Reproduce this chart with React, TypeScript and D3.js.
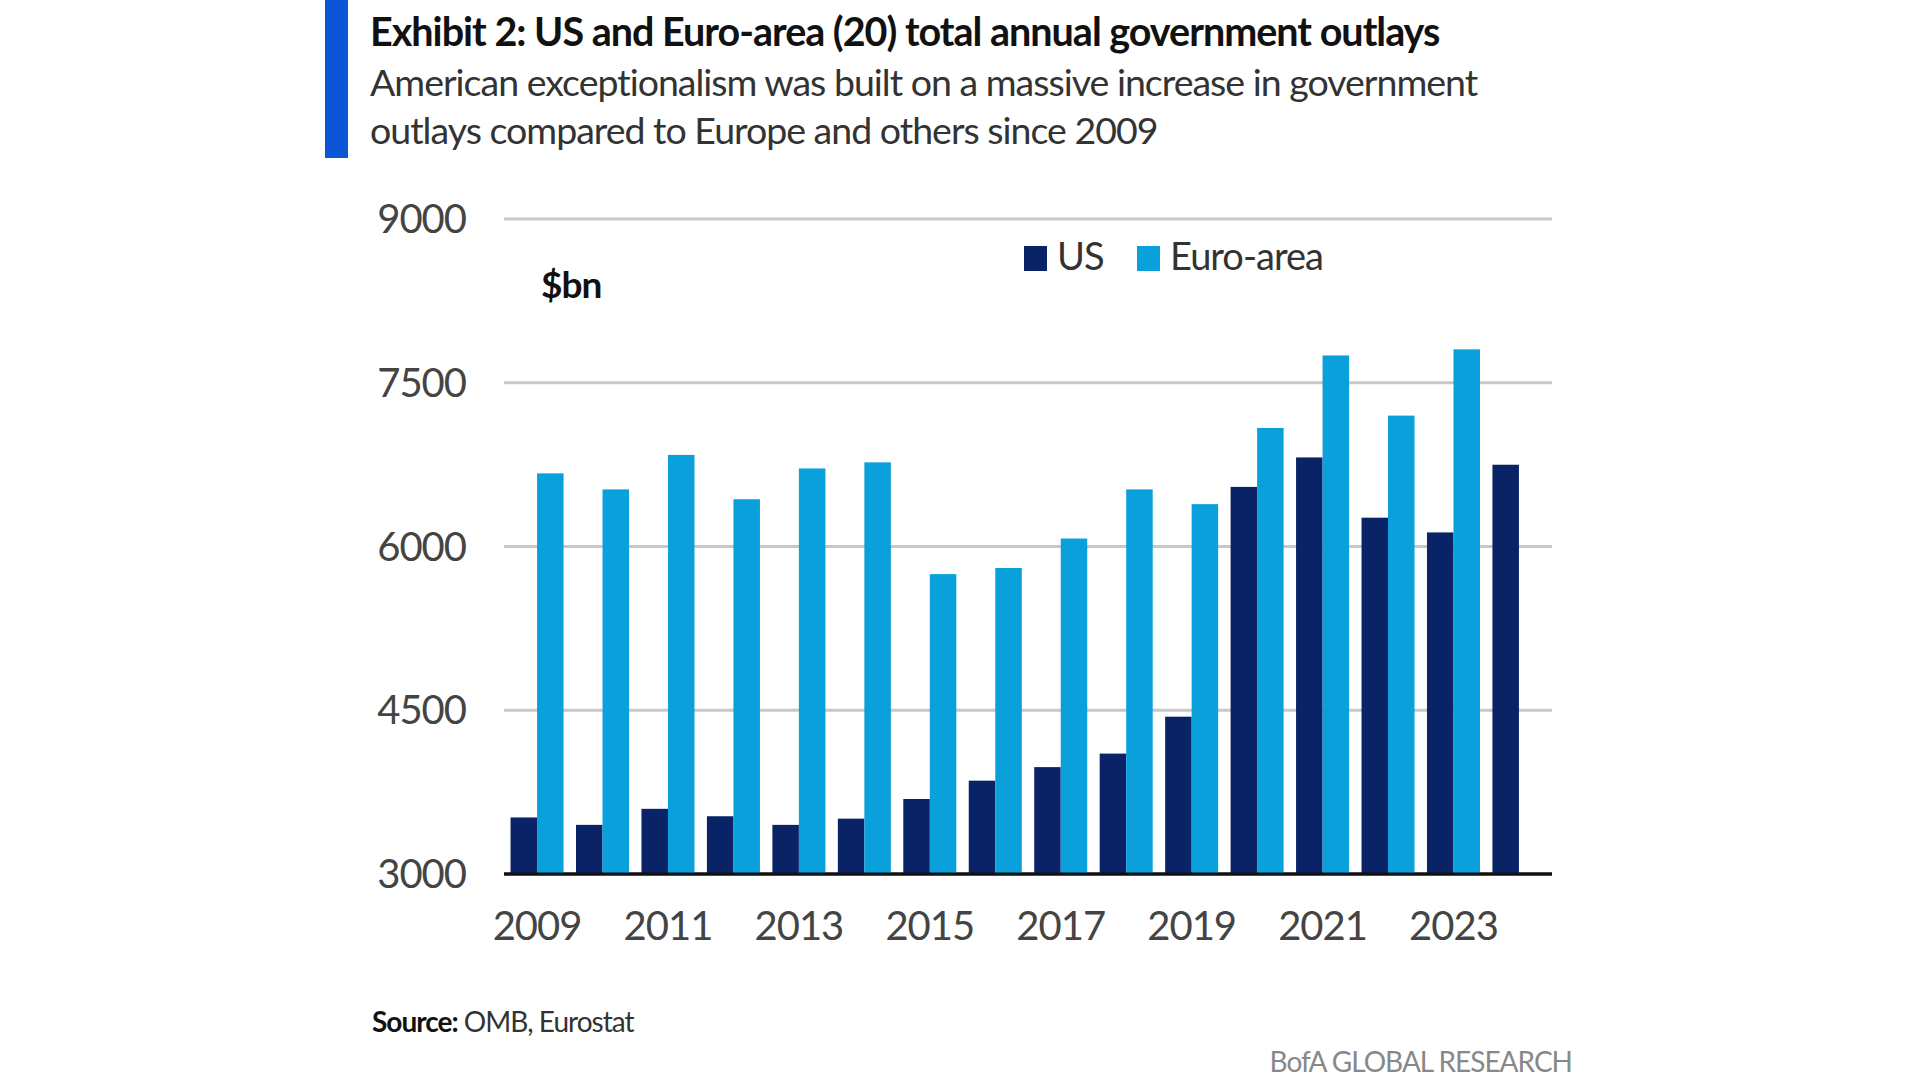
import React from "react";
import * as d3 from "d3";

const years = ["2009","2010","2011","2012","2013","2014","2015","2016","2017","2018","2019","2020","2021","2022","2023","2024"];
const usValues = [3518,3450,3597,3529,3450,3507,3687,3855,3979,4103,4441,6546,6816,6264,6129,6749];
const euroValues: (number|null)[] = [6670,6523,6839,6433,6715,6771,5747,5803,6073,6523,6388,7086,7750,7199,7806,null];
const yTicks = [3000,4500,6000,7500,9000];
const xLabels = ["2009","2011","2013","2015","2017","2019","2021","2023"];

const US_C = "#0a2367";
const EU_C = "#0aa0dc";
const F = "Lato, 'Open Sans', sans-serif";

export default function App() {
  const L = 504, R = 1552, T = 219, B = 874;
  const x = d3.scaleBand().domain(years).range([L, R]).paddingInner(0.19).paddingOuter(0.1);
  const y = d3.scaleLinear().domain([3000, 9000]).range([B, T]);
  const bw = x.bandwidth() / 2;
  return (
    <svg width={1920} height={1080} style={{ display: "block", background: "#fff", position: "absolute", left: 0, top: 0 }} fontFamily={F}>
      <rect x={325} y={0} width={23} height={158} fill="#0a56d6" />
      <text x={370} y={46} fontSize={39.5} fontWeight={700} fill="#111" letterSpacing={-1}>Exhibit 2: US and Euro-area (20) total annual government outlays</text>
      <text x={370} y={96} fontSize={37.5} fill="#333" letterSpacing={-1}>American exceptionalism was built on a massive increase in government</text>
      <text x={370} y={144} fontSize={37.5} fill="#333" letterSpacing={-1}>outlays compared to Europe and others since 2009</text>
      {yTicks.map(t => (
        <g key={t}>
          <line x1={L} x2={R} y1={y(t)} y2={y(t)} stroke={t === 3000 ? "#111" : "#c8c8c8"} strokeWidth={3} />
          <text x={466} y={y(t)} dy="0.35em" textAnchor="end" fontSize={40} fill="#444" letterSpacing={-1}>{t}</text>
        </g>
      ))}
      {years.map((yr, i) => (
        <g key={yr}>
          <rect x={x(yr)!} y={y(usValues[i])} width={bw} height={B - y(usValues[i])} fill={US_C} />
          {euroValues[i] != null && (
            <rect x={x(yr)! + bw} y={y(euroValues[i]!)} width={bw} height={B - y(euroValues[i]!)} fill={EU_C} />
          )}
        </g>
      ))}
      <line x1={L} x2={R} y1={B} y2={B} stroke="#111" strokeWidth={3} />
      {xLabels.map(l => (
        <text key={l} x={x(l)! + bw} y={940} textAnchor="middle" fontSize={40} fill="#444" letterSpacing={-1}>{l}</text>
      ))}
      <text x={541} y={298} fontSize={37} fontWeight={700} fill="#111" letterSpacing={-1}>$bn</text>
      <rect x={1024} y={246} width={23} height={25} fill={US_C} />
      <text x={1057} y={270} fontSize={38} fill="#333" letterSpacing={-1}>US</text>
      <rect x={1137} y={246} width={23} height={25} fill={EU_C} />
      <text x={1170} y={270} fontSize={38} fill="#333" letterSpacing={-1}>Euro-area</text>
      <text x={372} y={1032} fontSize={28} fill="#333" letterSpacing={-1}><tspan fontWeight={700} fill="#111">Source:</tspan> OMB, Eurostat</text>
      <text x={1572} y={1072} textAnchor="end" fontSize={28} fill="#888" letterSpacing={-1}>BofA GLOBAL RESEARCH</text>
    </svg>
  );
}
